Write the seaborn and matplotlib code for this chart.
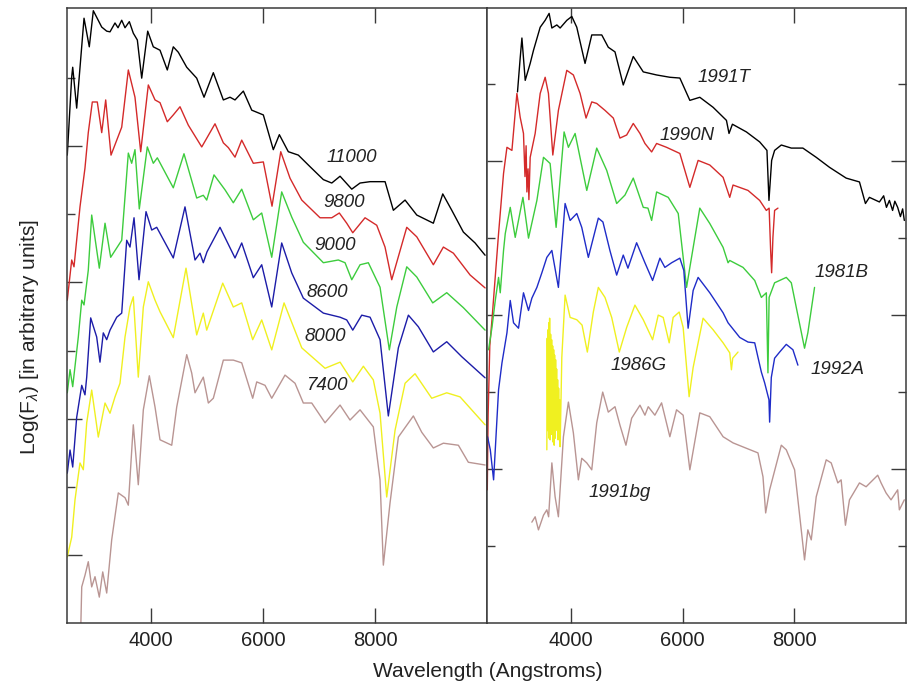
import matplotlib
matplotlib.use("Agg")
import matplotlib.pyplot as plt
import seaborn as sns
from matplotlib.ticker import FixedLocator, NullFormatter

sns.set_style("white")
plt.rcParams['font.family'] = ['Liberation Sans', 'DejaVu Sans']
plt.rcParams['mathtext.fontset'] = 'custom'
plt.rcParams['mathtext.rm'] = 'Liberation Sans'
plt.rcParams['mathtext.it'] = 'Liberation Sans:italic'

# ---------------- Left panel: model spectra (temperature labels) ----------------
wl_11000 = [2505, 2584, 2602, 2673, 2804, 2898, 2970, 3120, 3209, 3268, 3357, 3411, 3477, 3536, 3613,
            3684, 3756, 3834, 3941, 4041, 4161, 4291, 4398, 4488, 4638, 4816, 4947, 5113, 5292, 5411,
            5500, 5649, 5799, 6006, 6184, 6292, 6452, 6631, 6840, 7078, 7228, 7376, 7585, 7733, 7912,
            8180, 8328, 8537, 8746, 9042, 9210, 9371, 9578, 9787, 9966]
lf_11000 = [68.7, 80.2, 81.6, 75.6, 88.8, 84.6, 89.9, 87.5, 86.9, 86.8, 88.1, 87.4, 88.5, 87.4, 88.3,
            86.6, 85.6, 80.0, 86.9, 84.6, 84.1, 81.2, 84.6, 83.8, 81.6, 80.0, 77.2, 80.8, 76.8, 77.2,
            76.8, 78.1, 75.3, 74.6, 69.5, 71.7, 69.2, 68.7, 67.0, 65.1, 64.6, 65.6, 63.7, 64.6, 64.8,
            64.8, 60.6, 62.1, 59.9, 58.7, 63.0, 60.6, 57.4, 55.8, 54.0]

wl_9800 = [2505, 2584, 2625, 2732, 2821, 2880, 2952, 3041, 3120, 3191, 3286, 3477, 3595, 3714, 3816,
           3952, 4072, 4161, 4291, 4398, 4518, 4666, 4906, 5143, 5292, 5381, 5500, 5620, 5827, 6006,
           6161, 6317, 6483, 6692, 7019, 7228, 7363, 7495, 7603, 7822, 8031, 8179, 8299, 8567, 8746,
           9042, 9221, 9400, 9698, 9966]
lf_9800 = [47.4, 53.3, 52.3, 61.1, 66.8, 72.0, 76.5, 76.5, 72.0, 76.8, 68.7, 72.8, 81.2, 77.2, 69.2,
           79.0, 76.8, 76.4, 73.6, 74.6, 75.8, 73.1, 69.9, 73.3, 70.5, 69.8, 68.4, 70.9, 67.5, 67.7,
           61.2, 69.2, 65.3, 62.1, 59.5, 59.5, 60.2, 58.7, 57.3, 59.5, 58.4, 55.2, 50.4, 58.1, 56.7,
           52.6, 55.2, 54.3, 51.1, 49.2]

wl_9000 = [2505, 2554, 2602, 2702, 2763, 2804, 2880, 2941, 3077, 3179, 3280, 3477, 3595, 3655, 3714,
           3791, 3934, 4041, 4113, 4398, 4589, 4816, 4934, 4995, 5125, 5322, 5470, 5620, 5827, 5977,
           6156, 6334, 6513, 6720, 7078, 7345, 7465, 7585, 7733, 7881, 8090, 8256, 8389, 8567, 8746,
           9031, 9281, 9578, 9966]
lf_9000 = [33.8, 37.2, 34.7, 42.0, 47.4, 46.7, 51.8, 59.9, 52.1, 58.7, 53.7, 56.2, 69.0, 67.5, 69.5,
           60.8, 69.9, 67.5, 68.3, 63.9, 68.9, 62.4, 62.8, 62.1, 65.8, 63.6, 61.7, 63.7, 59.2, 60.2,
           53.7, 63.3, 59.6, 55.9, 52.9, 53.3, 52.9, 50.4, 52.6, 52.9, 49.3, 40.1, 46.4, 52.3, 50.8,
           47.0, 48.5, 46.3, 43.0]

wl_8600 = [2505, 2554, 2602, 2673, 2763, 2821, 2852, 2923, 3030, 3089, 3148, 3209, 3268, 3388, 3477,
           3566, 3625, 3697, 3786, 3911, 4013, 4102, 4398, 4607, 4786, 4875, 4934, 5000, 5232, 5500,
           5620, 5827, 5977, 6156, 6334, 6513, 6720, 7078, 7376, 7495, 7603, 7763, 7912, 8090, 8238,
           8417, 8596, 8774, 9042, 9281, 9549, 9966]
lf_8600 = [22.0, 25.4, 22.9, 30.2, 34.9, 33.5, 36.1, 44.8, 42.0, 38.3, 42.6, 41.6, 43.0, 44.9, 45.5,
           56.2, 55.2, 59.5, 50.4, 60.4, 57.7, 58.1, 53.6, 61.1, 53.3, 54.3, 52.9, 54.5, 58.1, 53.6,
           55.8, 50.7, 52.6, 46.4, 55.8, 51.4, 47.7, 45.5, 44.9, 44.5, 43.0, 45.2, 44.9, 41.6, 30.4,
           40.4, 45.2, 43.5, 39.8, 41.3, 39.1, 36.0]

wl_8000 = [2505, 2584, 2643, 2732, 2791, 2852, 2941, 3059, 3179, 3268, 3357, 3446, 3536, 3625, 3684,
           3773, 3863, 3952, 4072, 4161, 4398, 4625, 4816, 4934, 4995, 5281, 5470, 5620, 5816, 5977,
           6156, 6376, 6692, 7108, 7376, 7603, 7792, 7970, 8090, 8209, 8358, 8537, 8715, 9013, 9281,
           9519, 9966]
lf_8000 = [9.7, 12.6, 18.1, 23.5, 22.5, 29.4, 34.2, 27.3, 32.3, 30.8, 33.2, 35.2, 42.0, 46.4, 47.9,
           36.1, 46.4, 50.1, 47.4, 45.7, 41.9, 52.1, 42.3, 45.5, 43.0, 49.9, 46.4, 47.0, 41.6, 44.5,
           40.1, 47.0, 40.4, 37.4, 38.3, 35.4, 37.7, 35.7, 30.8, 18.5, 28.3, 35.2, 36.6, 33.0, 33.8,
           33.2, 29.1]

wl_7400 = [2745, 2763, 2821, 2880, 2941, 3000, 3077, 3138, 3209, 3298, 3416, 3536, 3595, 3684, 3773,
           3863, 3970, 4072, 4161, 4370, 4459, 4638, 4727, 4786, 4934, 5024, 5113, 5292, 5470, 5620,
           5816, 5888, 6036, 6156, 6393, 6572, 6720, 6870, 7108, 7376, 7554, 7733, 7970, 8090, 8149,
           8268, 8417, 8685, 8835, 9042, 9221, 9489, 9667, 9966]
lf_7400 = [-1.0, 5.3, 7.0, 9.0, 5.3, 6.8, 3.8, 7.5, 4.4, 12.2, 19.1, 18.4, 17.3, 29.1, 20.3,
           31.3, 36.3, 31.7, 26.9, 26.1, 31.7, 39.4, 36.7, 33.8, 36.1, 32.3, 33.0, 38.6, 38.6, 38.2,
           33.0, 35.4, 34.9, 33.0, 36.4, 35.2, 32.3, 32.3, 29.4, 32.0, 29.8, 31.3, 28.8, 21.0, 8.5,
           17.6, 27.3, 30.4, 28.0, 25.7, 26.4, 26.1, 23.6, 23.2]

left_labels = ["11000", "9800", "9000", "8600", "8000", "7400"]
left_label_wl = [7590, 7450, 7295, 7150, 7117, 7135]
left_label_lf = [68.4, 61.8, 55.4, 48.6, 42.0, 34.9]

# ---------------- Right panel: observed supernovae ----------------
wl_1991T = [3046, 3094, 3125, 3184, 3273, 3332, 3452, 3541, 3612, 3661, 3750, 3809, 3929, 4018, 4107,
            4255, 4375, 4554, 4671, 4791, 4939, 5118, 5297, 5536, 5774, 5952, 6131, 6309, 6547, 6786,
            6832, 6893, 7143, 7381, 7511, 7547, 7595, 7648, 7768, 7947, 8154, 8393, 8631, 8929, 9167,
            9274, 9345, 9524, 9600, 9650, 9703, 9760, 9800, 9851, 9900, 9940, 9970]
lf_1991T = [69.0, 73.4, 76.0, 70.5, 72.7, 74.4, 77.4, 78.3, 79.2, 77.3, 77.7, 77.3, 78.3, 78.8, 77.4,
            72.7, 76.4, 76.4, 74.8, 74.2, 69.9, 73.6, 71.6, 71.2, 70.9, 70.8, 67.9, 68.3, 67.0, 65.3,
            63.6, 64.8, 63.8, 62.5, 61.4, 54.9, 60.1, 61.4, 62.1, 61.7, 61.7, 60.5, 59.2, 57.8, 57.3,
            54.5, 55.3, 54.7, 55.5, 54.0, 54.9, 53.6, 54.8, 54.0, 52.8, 53.8, 52.3]

wl_1990N = [2505, 2520, 2550, 2589, 2707, 2796, 2857, 2946, 3035, 3094, 3153, 3180, 3200, 3214, 3235,
            3250, 3273, 3362, 3452, 3541, 3600, 3678, 3778, 3928, 4046, 4166, 4273, 4375, 4464, 4612,
            4761, 4880, 5000, 5118, 5238, 5327, 5447, 5536, 5714, 5952, 6131, 6279, 6488, 6726, 6845,
            6904, 7172, 7381, 7500, 7550, 7577, 7595, 7618, 7648, 7708]
lf_1990N = [17.3, 27.0, 36.0, 39.4, 50.6, 58.4, 61.8, 61.4, 68.8, 65.7, 63.6, 58.0, 62.0, 56.0, 59.0,
            55.0, 60.5, 63.6, 68.8, 70.9, 68.8, 60.8, 66.6, 71.8, 71.2, 68.8, 65.6, 67.7, 67.5, 66.6,
            65.6, 63.0, 63.4, 64.9, 63.6, 62.3, 61.2, 62.3, 61.8, 61.0, 56.6, 60.1, 59.5, 57.9, 55.3,
            56.9, 56.2, 54.9, 53.6, 53.9, 48.4, 45.5, 50.1, 53.6, 53.9]

wl_1981B = [2528, 2589, 2648, 2707, 2737, 2796, 2827, 2916, 3005, 3143, 3243, 3393, 3511, 3630, 3737,
            3880, 3957, 4077, 4286, 4464, 4643, 4821, 4970, 5118, 5297, 5381, 5447, 5536, 5744, 5923,
            6072, 6131, 6309, 6488, 6726, 6815, 6845, 7083, 7292, 7411, 7500, 7529, 7550, 7648, 7857,
            7947, 8036, 8184, 8243, 8363]
lf_1981B = [35.5, 38.4, 41.9, 44.9, 42.9, 48.4, 50.6, 54.0, 50.1, 55.3, 50.0, 54.9, 60.5, 59.7, 51.4,
            63.8, 61.8, 63.6, 56.2, 61.7, 58.8, 54.5, 55.6, 57.8, 54.0, 53.9, 52.3, 56.0, 55.3, 53.2,
            43.6, 46.2, 53.9, 51.9, 48.8, 46.8, 47.1, 46.2, 44.5, 42.3, 42.9, 32.5, 42.3, 44.2, 44.9,
            44.2, 41.0, 35.7, 37.7, 43.6]

wl_1992A = [2510, 2559, 2618, 2648, 2707, 2768, 2857, 2916, 2975, 3064, 3153, 3243, 3303, 3393, 3482,
            3571, 3661, 3778, 3898, 3988, 4107, 4196, 4314, 4493, 4575, 4700, 4821, 4939, 5023, 5178,
            5327, 5464, 5595, 5684, 5804, 5952, 6023, 6100, 6190, 6279, 6488, 6726, 6815, 7024, 7172,
            7292, 7351, 7411, 7470, 7547, 7559, 7589, 7648, 7738, 7857, 7976, 8065]
lf_1992A = [24.2, 22.5, 18.6, 22.5, 30.3, 33.8, 37.7, 41.9, 39.0, 38.3, 42.9, 40.6, 42.2, 43.6, 45.5,
            47.5, 48.4, 43.6, 54.5, 52.3, 53.2, 51.4, 47.5, 52.6, 52.1, 48.4, 45.2, 47.8, 46.1, 49.4,
            46.8, 44.5, 47.4, 46.2, 46.8, 47.4, 45.8, 38.3, 43.2, 44.9, 42.9, 40.3, 39.0, 37.1, 36.5,
            36.4, 34.5, 32.6, 31.2, 29.0, 26.1, 31.9, 34.4, 35.2, 36.2, 35.5, 33.5]

wl_1986G = [3571, 3578, 3586, 3593, 3600, 3606, 3612, 3621, 3630, 3639, 3648, 3657, 3666, 3675, 3684,
            3693, 3702, 3710, 3719, 3728, 3737, 3746, 3755, 3764, 3773, 3782, 3791, 3800, 3809,
            3839, 3898, 3988, 4107, 4202, 4296, 4403, 4493, 4612, 4732, 4868, 5000, 5148, 5297, 5464,
            5565, 5654, 5761, 5832, 5940, 6011, 6118, 6190, 6368, 6547, 6726, 6845, 6875, 6898, 6993]
lf_1986G = [22.5, 37.0, 25.0, 38.1, 26.4, 39.0, 24.0, 39.6, 23.8, 37.5, 24.5, 36.8, 25.1, 36.0, 23.5,
            35.5, 23.1, 34.8, 24.0, 34.2, 26.4, 33.0, 25.0, 31.6, 23.8, 30.5, 24.5, 29.0, 22.9,
            34.5, 42.6, 39.7, 39.4, 38.7, 35.2, 40.4, 43.6, 42.3, 39.7, 35.2, 38.4, 41.3, 39.4, 36.8,
            40.0, 39.7, 36.4, 39.7, 40.4, 38.4, 29.4, 33.2, 39.6, 38.1, 36.4, 35.1, 32.9, 34.4, 35.2]

wl_1991bg = [3303, 3362, 3421, 3511, 3571, 3603, 3661, 3719, 3778, 3868, 3957, 4046, 4136, 4196, 4286,
             4375, 4464, 4571, 4671, 4791, 4880, 4987, 5089, 5238, 5327, 5386, 5505, 5625, 5773, 5893,
             6011, 6131, 6309, 6488, 6726, 6904, 7143, 7350, 7440, 7488, 7559, 7768, 7857, 8006, 8125,
             8184, 8243, 8304, 8393, 8572, 8661, 8780, 8839, 8916, 8988, 9167, 9286, 9494, 9554, 9643,
             9732, 9851, 9881, 9970]
lf_1991bg = [13.1, 13.8, 12.1, 14.0, 14.7, 13.8, 20.8, 16.4, 13.8, 24.2, 28.7, 24.7, 18.6, 21.4, 20.8,
             19.9, 26.0, 30.0, 27.4, 28.1, 25.7, 23.1, 26.6, 28.3, 27.0, 28.1, 27.0, 28.6, 24.2, 27.7,
             27.0, 19.9, 27.3, 26.8, 24.2, 23.4, 22.7, 22.1, 19.0, 14.3, 17.3, 23.1, 22.5, 19.9, 12.1,
             8.2, 12.1, 10.8, 16.4, 21.2, 20.8, 18.2, 18.6, 12.7, 16.0, 18.2, 17.7, 19.2, 18.2, 16.9,
             16.0, 17.3, 14.7, 16.0]

right_labels = ["1991T", "1990N", "1981B", "1986G", "1992A", "1991bg"]
right_label_wl = [6738, 6086, 8854, 5211, 8783, 4880]
right_label_lf = [70.9, 63.4, 45.6, 33.4, 32.9, 17.0]

x_ticks = [4000, 6000, 8000]

BLACK = "#000000"
RED = "#d42a2a"
GREEN = "#3dcc3d"
BLUE = "#1c1ca8"
YELLOW = "#f0f020"
ROSY = "#b99593"

left_series = [(wl_11000, lf_11000, BLACK), (wl_9800, lf_9800, RED), (wl_9000, lf_9000, GREEN),
               (wl_8600, lf_8600, BLUE), (wl_8000, lf_8000, YELLOW), (wl_7400, lf_7400, ROSY)]
right_series = [(wl_1991T, lf_1991T, BLACK), (wl_1990N, lf_1990N, RED), (wl_1981B, lf_1981B, GREEN),
                (wl_1992A, lf_1992A, "#1f2cc8"), (wl_1986G, lf_1986G, YELLOW), (wl_1991bg, lf_1991bg, ROSY)]

fig = plt.figure(figsize=(9.07, 6.89), dpi=100)
ax1 = fig.add_axes([67/907, 1-623/689, 420/907, 615/689])
ax2 = fig.add_axes([487/907, 1-623/689, 419/907, 615/689])

for wl, lf, c in left_series:
    sns.lineplot(x=wl, y=lf, ax=ax1, color=c, linewidth=1.0, estimator=None, sort=False)
for wl, lf, c in right_series:
    lw = 1.0
    sns.lineplot(x=wl, y=lf, ax=ax2, color=c, linewidth=lw, estimator=None, sort=False)

for txt, xw, yv in zip(left_labels, left_label_wl, left_label_lf):
    ax1.text(xw, yv, txt, ha='center', va='center', fontsize=13.5, style='italic', color='#222222')
for txt, xw, yv in zip(right_labels, right_label_wl, right_label_lf):
    ax2.text(xw, yv, txt, ha='center', va='center', fontsize=13.5, style='italic', color='#222222')

ax1.set_ylim(0, 90.3)
ax2.set_ylim(0, 79.9)
for ax in (ax1, ax2):
    ax.set_xlim(2500, 10000)
    ax.set_xticks(x_ticks)
    ax.set_xticklabels([str(t) for t in x_ticks])
    ax.set_xlabel("")
    ax.set_ylabel("")
    for s in ax.spines.values():
        s.set_visible(True)
        s.set_color('#3a3a3a')
        s.set_linewidth(1.1)
    ax.tick_params(axis='x', which='major', direction='in', length=11, width=1.0, top=True, bottom=True,
                   labelsize=14.5, pad=6, colors='#3a3a3a', labelcolor='#222222')
    ax.yaxis.set_major_formatter(NullFormatter())
    ax.yaxis.set_minor_formatter(NullFormatter())

ax1.yaxis.set_major_locator(FixedLocator([10, 30, 50, 70]))
ax1.yaxis.set_minor_locator(FixedLocator([20, 40, 60, 80]))
ax1.tick_params(axis='y', which='major', direction='in', length=11, width=1.0, left=True, right=False, colors='#3a3a3a')
ax1.tick_params(axis='y', which='minor', direction='in', length=6, width=1.0, left=True, right=False, colors='#3a3a3a')

ax2.yaxis.set_major_locator(FixedLocator([20, 40, 60]))
ax2.yaxis.set_minor_locator(FixedLocator([10, 30, 50, 70]))
ax2.tick_params(axis='y', which='major', direction='in', length=11, width=1.0, left=True, right=True, colors='#3a3a3a')
ax2.tick_params(axis='y', which='minor', direction='in', length=6, width=1.0, left=True, right=True, colors='#3a3a3a')

fig.text(0.5375, 0.025, "Wavelength (Angstroms)", ha='center', va='center', fontsize=15, color='#222222')
fig.text(0.033, 0.511, r"Log(F$_{\lambda}$) [in arbitrary units]", ha='center', va='center',
         rotation=90, fontsize=15, color='#222222')

fig.savefig("out.png", dpi=100)
